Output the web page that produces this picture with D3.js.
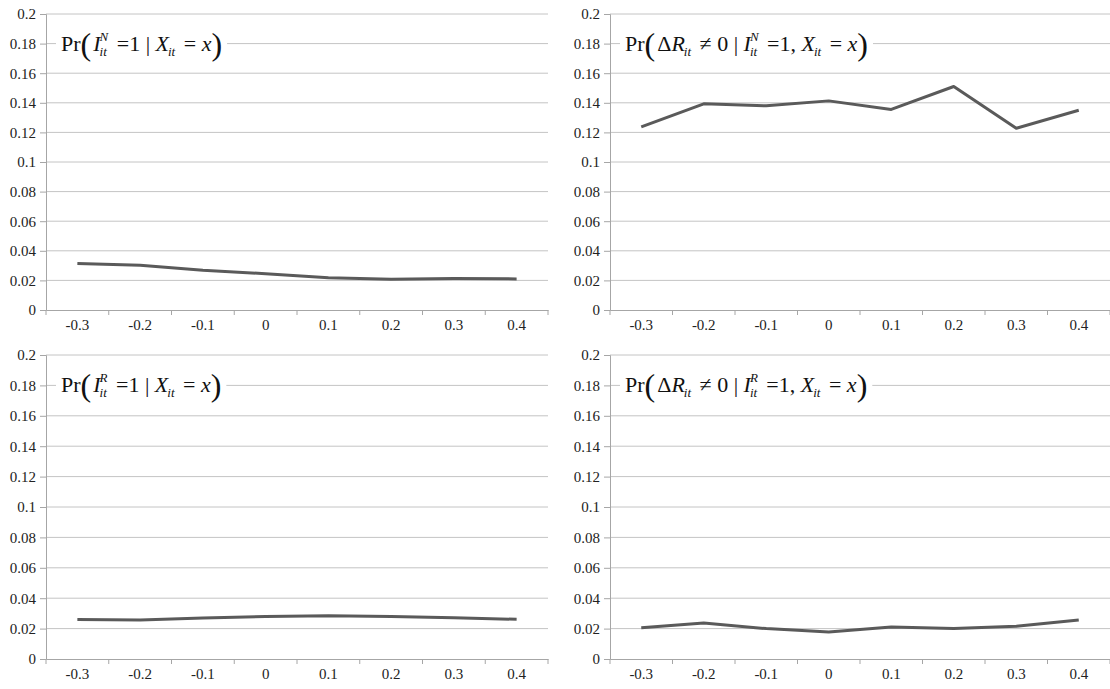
<!DOCTYPE html>
<html>
<head>
<meta charset="utf-8">
<script src="https://cdn.jsdelivr.net/npm/d3@7"></script>
<style>
  body { margin: 0; background: #fff; }
  svg { display: block; }
</style>
</head>
<body>
<svg id="chart" width="1110" height="689"></svg>
<script>
// x categories and y ticks shared by all four panels
var xCats = ['-0.3', '-0.2', '-0.1', '0', '0.1', '0.2', '0.3', '0.4'];
var yTicks = [0, 0.02, 0.04, 0.06, 0.08, 0.1, 0.12, 0.14, 0.16, 0.18, 0.2];

// series
var prNew      = [0.0315, 0.0302, 0.0268, 0.0245, 0.0218, 0.0208, 0.0213, 0.0210];
var prChangeN  = [0.1237, 0.1393, 0.1380, 0.1413, 0.1355, 0.1510, 0.1228, 0.1350];
var prRevise   = [0.0260, 0.0256, 0.0270, 0.0280, 0.0285, 0.0280, 0.0271, 0.0261];
var prChangeR  = [0.0206, 0.0237, 0.0200, 0.0178, 0.0210, 0.0200, 0.0215, 0.0256];

// formula titles, one piece per run of text
var titleNew = [
  {t: 'Pr'}, {t: '(', big: true}, {t: 'I', it: true}, {sup: 'N', sub: 'it'},
  {t: ' =1 | '}, {t: 'X', it: true}, {sub: 'it'}, {t: ' = '}, {t: 'x', it: true}, {t: ')', big: true}
];
var titleChangeN = [
  {t: 'Pr'}, {t: '(', big: true}, {t: '\u0394'}, {t: 'R', it: true}, {sub: 'it'}, {t: ' \u2260 0 | '},
  {t: 'I', it: true}, {sup: 'N', sub: 'it'}, {t: ' =1, '}, {t: 'X', it: true}, {sub: 'it'},
  {t: ' = '}, {t: 'x', it: true}, {t: ')', big: true}
];
var titleRevise = [
  {t: 'Pr'}, {t: '(', big: true}, {t: 'I', it: true}, {sup: 'R', sub: 'it'},
  {t: ' =1 | '}, {t: 'X', it: true}, {sub: 'it'}, {t: ' = '}, {t: 'x', it: true}, {t: ')', big: true}
];
var titleChangeR = [
  {t: 'Pr'}, {t: '(', big: true}, {t: '\u0394'}, {t: 'R', it: true}, {sub: 'it'}, {t: ' \u2260 0 | '},
  {t: 'I', it: true}, {sup: 'R', sub: 'it'}, {t: ' =1, '}, {t: 'X', it: true}, {sub: 'it'},
  {t: ' = '}, {t: 'x', it: true}, {t: ')', big: true}
];

var panels = [
  {values: prNew,     title: titleNew,     left: 46,  right: 548,  top: 14,  bottom: 310},
  {values: prChangeN, title: titleChangeN, left: 610, right: 1110, top: 14,  bottom: 310},
  {values: prRevise,  title: titleRevise,  left: 46,  right: 548,  top: 355, bottom: 659},
  {values: prChangeR, title: titleChangeR, left: 610, right: 1110, top: 355, bottom: 659}
];

var svg = d3.select('#chart');
var serif = '"Liberation Serif", "Times New Roman", serif';

function drawTitle(g, pieces, x0, y0) {
  var tg = g.append('g').attr('class', 'title');
  var cx = x0, fs = 22;
  pieces.forEach(function(p) {
    if (p.t !== undefined) {
      var t = tg.append('text')
        .attr('x', cx)
        .attr('y', p.big ? y0 + 4 : y0)
        .style('white-space', 'pre')
        .style('font-family', serif)
        .style('font-size', (p.big ? 32 : fs) + 'px')
        .style('font-style', p.it ? 'italic' : 'normal')
        .attr('fill', '#111')
        .text(p.t);
      cx += t.node().getComputedTextLength() + (p.big ? 2 : 0);
    } else {
      var w = 0;
      if (p.sup) {
        var s = tg.append('text').attr('x', cx - 1).attr('y', y0 - 10)
          .style('font-family', serif).style('font-size', '13px').style('font-style', 'italic')
          .attr('fill', '#111').text(p.sup);
        w = Math.max(w, s.node().getComputedTextLength());
      }
      if (p.sub) {
        var b = tg.append('text').attr('x', cx - 1).attr('y', y0 + 5)
          .style('font-family', serif).style('font-size', '13px').style('font-style', 'italic')
          .attr('fill', '#111').text(p.sub);
        w = Math.max(w, b.node().getComputedTextLength());
      }
      cx += w + 2;
    }
  });
  var bb = tg.node().getBBox();
  tg.insert('rect', ':first-child')
    .attr('x', bb.x - 5).attr('y', bb.y)
    .attr('width', bb.width + 10).attr('height', bb.height)
    .attr('fill', '#fff');
}

function styleTicks(axisG) {
  axisG.selectAll('text')
    .style('font-family', serif)
    .style('font-size', '15px')
    .attr('fill', '#222');
}

panels.forEach(function(p) {
  var x = d3.scaleBand().domain(xCats).range([p.left, p.right]);
  var y = d3.scaleLinear().domain([0, 0.2]).range([p.bottom, p.top]);
  var g = svg.append('g');

  // horizontal gridlines
  g.append('g').selectAll('line')
    .data(yTicks.slice(1))
    .enter().append('line')
    .attr('x1', p.left).attr('x2', p.right)
    .attr('y1', function(d) { return y(d); })
    .attr('y2', function(d) { return y(d); })
    .attr('stroke', '#c4c4c4').attr('stroke-width', 1);

  // y axis
  var ya = g.append('g')
    .attr('transform', 'translate(' + p.left + ',0)')
    .call(d3.axisLeft(y).tickValues(yTicks).tickSize(6).tickPadding(4)
      .tickFormat(function(d) { return d3.format('')(+d.toFixed(2)); }));
  ya.selectAll('line, path').attr('stroke', '#a6a6a6');
  styleTicks(ya);

  // x axis, ticks on band edges
  var xa = g.append('g')
    .attr('transform', 'translate(0,' + p.bottom + ')')
    .call(d3.axisBottom(x).tickSize(0).tickPadding(9));
  xa.select('.domain').attr('stroke', '#a6a6a6');
  styleTicks(xa);
  xa.selectAll('.edge')
    .data(d3.range(xCats.length + 1))
    .enter().append('line')
    .attr('x1', function(i) { return p.left + i * x.step(); })
    .attr('x2', function(i) { return p.left + i * x.step(); })
    .attr('y1', 0).attr('y2', 5)
    .attr('stroke', '#a6a6a6');

  // the series line
  var line = d3.line()
    .x(function(d, i) { return x(xCats[i]) + x.bandwidth() / 2; })
    .y(function(d) { return y(d); });
  g.append('path')
    .datum(p.values)
    .attr('d', line)
    .attr('fill', 'none')
    .attr('stroke', '#5a5a5a')
    .attr('stroke-width', 3)
    .attr('stroke-linejoin', 'round');

  drawTitle(g, p.title, p.left + 15, y(0.18) + 7);
});
</script>
</body>
</html>
